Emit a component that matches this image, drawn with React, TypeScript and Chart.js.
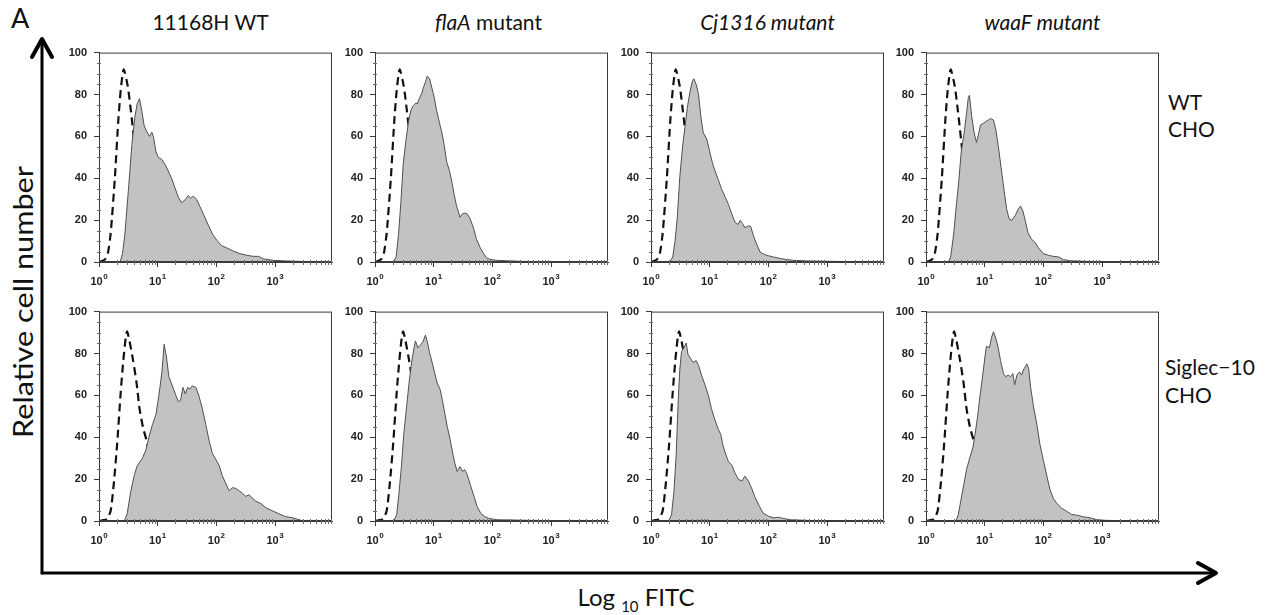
import React, { useEffect, useRef } from "react";
import { Chart, registerables } from "chart.js";

Chart.register(...registerables);

// ---------- labels ----------
const columnTitles = ["11168H WT", "flaA mutant", "Cj1316 mutant", "waaF mutant"];
const rowLabels = [["WT", "CHO"], ["Siglec\u221210", "CHO"]];
const yTickValues = [0, 20, 40, 60, 80, 100];
const xTickExponents = [0, 1, 2, 3];
const xMaxDecade = 3.97;

// ---------- control histograms, x in log10 FITC ----------
const ctrlTopLog = [0, 0.1, 0.15, 0.2, 0.27, 0.33, 0.37, 0.42, 0.49, 0.54, 0.58, 0.65, 0.75, 0.85, 0.95, 1.1];
const ctrlTopCount = [0, 1.2, 4, 14, 40, 68, 82, 92, 84, 73, 63, 45, 25, 10, 3, 0];

const ctrlBotLog = [0, 0.06, 0.14, 0.2, 0.255, 0.31, 0.37, 0.415, 0.455, 0.48, 0.52, 0.58, 0.64, 0.69, 0.75, 0.81, 0.9, 1.0, 1.1, 1.2, 1.35];
const ctrlBotCount = [0, 0.3, 1, 5, 18.7, 37, 61.5, 76.8, 87.5, 90.5, 86, 76.8, 66, 53.8, 44.6, 38.5, 25, 12, 5, 1, 0];

// ---------- sample histograms: WT CHO row ----------
const topWtLog = [0.36, 0.4, 0.44, 0.5, 0.56, 0.61, 0.65, 0.69, 0.73, 0.77, 0.81, 0.86, 0.9, 0.93, 0.97, 1.01, 1.07, 1.125, 1.18, 1.24, 1.3, 1.35, 1.41, 1.47, 1.52, 1.56, 1.61, 1.665, 1.72, 1.79, 1.86, 1.94, 2.01, 2.09, 2.18, 2.29, 2.4, 2.52, 2.63, 2.72, 2.8, 2.97, 3.2, 3.43, 3.71, 3.94];
const topWtCount = [0, 4, 13, 34, 56, 69, 75.5, 78, 72, 65, 62.5, 60, 62, 59.5, 52.7, 50, 49, 46.6, 43.5, 39.7, 35, 31, 28.3, 29.8, 31.7, 30.6, 31.4, 29.8, 26.5, 22.2, 17.7, 13, 10.3, 7.8, 6.7, 5.2, 4, 3.2, 2.7, 2.7, 1.5, 0.8, 0.5, 0.3, 0.15, 0];

const topFlaLog = [0.31, 0.36, 0.4, 0.44, 0.48, 0.53, 0.57, 0.61, 0.65, 0.7, 0.72, 0.76, 0.8, 0.82, 0.86, 0.89, 0.93, 0.97, 1.01, 1.05, 1.1, 1.14, 1.18, 1.22, 1.27, 1.31, 1.35, 1.39, 1.45, 1.49, 1.53, 1.57, 1.62, 1.68, 1.73, 1.79, 1.85, 1.9, 1.96, 2.07, 2.24, 2.53, 2.93, 3.96];
const topFlaCount = [0, 2.4, 13, 28, 46.5, 58.7, 67, 72.3, 74.6, 76, 75.4, 78.4, 80.7, 83, 86, 88.8, 87.5, 83, 78.4, 72.3, 66.3, 61.7, 55.6, 48, 43.5, 38.1, 32, 26.7, 21.4, 23, 23.4, 23, 20.7, 16.1, 10.8, 7, 4, 2.1, 1.2, 0.8, 0.6, 0.3, 0.15, 0];

const topCjLog = [0.32, 0.37, 0.41, 0.45, 0.49, 0.54, 0.58, 0.62, 0.665, 0.71, 0.73, 0.77, 0.81, 0.85, 0.89, 0.95, 0.99, 1.04, 1.09, 1.15, 1.2, 1.26, 1.32, 1.375, 1.43, 1.48, 1.52, 1.56, 1.6, 1.66, 1.7, 1.74, 1.8, 1.86, 1.93, 2.0, 2.085, 2.2, 2.31, 2.43, 2.65, 3.1, 3.96];
const topCjCount = [0, 2.4, 10, 22, 40.4, 55.6, 64.7, 73.9, 81.5, 86.8, 87.5, 84.8, 80, 69.3, 61.7, 58.7, 54, 48, 43.5, 39, 35, 31.3, 27.5, 23, 19.1, 17.9, 19.9, 18.4, 16.4, 17.3, 16.9, 13, 8.5, 4.7, 3.6, 3, 2.4, 1.7, 1.2, 0.8, 0.5, 0.3, 0];

const topWaaLog = [0.38, 0.42, 0.47, 0.51, 0.56, 0.6, 0.65, 0.69, 0.72, 0.74, 0.78, 0.82, 0.86, 0.9, 0.93, 0.98, 1.02, 1.06, 1.1, 1.15, 1.19, 1.23, 1.28, 1.33, 1.375, 1.415, 1.46, 1.52, 1.57, 1.61, 1.65, 1.69, 1.74, 1.8, 1.86, 1.91, 2.0, 2.085, 2.17, 2.26, 2.34, 2.45, 2.74, 3.19, 3.96];
const topWaaCount = [0, 2.4, 13, 25, 39, 52.6, 61.7, 70.8, 78.4, 79.6, 69.3, 61.7, 57.1, 61.7, 65.5, 66.3, 67, 67.8, 68.5, 67.8, 63.2, 55.6, 45, 34.3, 25.2, 20.7, 19.9, 22.2, 25.2, 26.7, 24.5, 19.9, 13.8, 10.8, 9.3, 7, 4, 3.2, 2.7, 2.4, 1.2, 0.6, 0.3, 0.15, 0];

// ---------- sample histograms: Siglec-10 CHO row ----------
const botWtLog = [0.43, 0.48, 0.54, 0.6, 0.65, 0.74, 0.8, 0.85, 0.91, 0.97, 1.02, 1.07, 1.11, 1.15, 1.19, 1.25, 1.31, 1.35, 1.39, 1.43, 1.47, 1.51, 1.55, 1.59, 1.65, 1.7, 1.76, 1.82, 1.875, 1.93, 1.99, 2.05, 2.1, 2.16, 2.22, 2.27, 2.33, 2.39, 2.44, 2.5, 2.56, 2.61, 2.67, 2.76, 2.84, 2.95, 3.07, 3.18, 3.3, 3.41, 3.49];
const botWtCount = [0, 3.4, 14, 21.7, 26.3, 30, 34, 40, 46, 50.8, 60, 70.6, 84.4, 78.3, 69, 64.5, 60, 57, 57.6, 63.8, 60.7, 63.8, 63, 64.5, 63.8, 60, 53.8, 46, 38.5, 32.4, 29.4, 26.3, 21.7, 17.9, 14.4, 15.9, 15.6, 14.4, 13.3, 11.8, 12.5, 11, 9.5, 8.3, 6.4, 4.9, 3.4, 2.1, 1.5, 0.6, 0];

const botFlaLog = [0.32, 0.37, 0.41, 0.45, 0.49, 0.54, 0.58, 0.62, 0.665, 0.69, 0.73, 0.78, 0.82, 0.86, 0.89, 0.93, 0.98, 1.02, 1.06, 1.11, 1.15, 1.19, 1.23, 1.28, 1.32, 1.36, 1.4, 1.45, 1.49, 1.53, 1.57, 1.63, 1.69, 1.74, 1.8, 1.86, 1.94, 2.09, 2.31, 2.65, 3.22, 3.96];
const botFlaCount = [0, 3, 13.8, 26, 41.3, 55, 65.8, 75, 82.7, 86, 82.7, 84.2, 85.8, 88.8, 85.8, 80.4, 75, 70.4, 65.8, 62.8, 57.4, 51.3, 45.2, 39, 32.9, 27.6, 23.7, 26, 23.7, 24.5, 22.2, 16.8, 11.5, 6.9, 3.8, 2.3, 1.2, 0.6, 0.5, 0.3, 0.15, 0];

const botCjLog = [0.3, 0.35, 0.39, 0.43, 0.46, 0.49, 0.52, 0.56, 0.6, 0.63, 0.68, 0.72, 0.77, 0.81, 0.86, 0.92, 0.98, 1.03, 1.09, 1.15, 1.19, 1.22, 1.26, 1.32, 1.375, 1.43, 1.49, 1.55, 1.6, 1.66, 1.72, 1.77, 1.85, 1.91, 2.0, 2.085, 2.17, 2.26, 2.37, 2.65, 3.1, 3.96];
const botCjCount = [0, 3, 13.8, 32, 55, 72, 81, 82.7, 85, 79.6, 77.3, 75.8, 76.6, 74.3, 69.7, 65, 59.7, 53.6, 48.2, 43.6, 41.3, 36.8, 32.9, 28.3, 26.8, 23, 19.9, 19.1, 21.4, 19.1, 15.3, 11.5, 6.9, 3.8, 2.3, 1.5, 1.8, 1.2, 0.6, 0.3, 0.15, 0];

const botWaaLog = [0.51, 0.55, 0.59, 0.64, 0.69, 0.75, 0.8, 0.835, 0.875, 0.92, 0.97, 1.01, 1.03, 1.08, 1.12, 1.15, 1.19, 1.23, 1.27, 1.32, 1.36, 1.4, 1.44, 1.48, 1.51, 1.55, 1.59, 1.63, 1.67, 1.72, 1.75, 1.78, 1.83, 1.89, 1.94, 2.0, 2.06, 2.11, 2.17, 2.23, 2.31, 2.4, 2.48, 2.57, 2.68, 2.8, 2.91, 3.08, 3.48, 3.96];
const botWaaCount = [0, 3, 9.2, 16.8, 24.5, 30.6, 35.2, 41.3, 49, 59.7, 70.4, 79.6, 83.5, 82.7, 88, 90.4, 87.3, 82.7, 76.6, 70.4, 68.9, 69.7, 68.9, 70.4, 65, 69.7, 71.2, 69.7, 72.7, 75, 72.7, 64.3, 55, 45.9, 36.8, 29, 21.4, 15.3, 10.7, 8.4, 6.1, 4.6, 3.1, 2.8, 2, 1.5, 0.6, 0.3, 0.15, 0];

// ---------- layout ----------
const COL_LEFT = [99, 375, 651, 926];
const ROW_TOP = [43, 302];
const PLOT_W = 233;
const PLOT_H = 219;
const AXIS_W = 40;
const AXIS_H = 30;
const PAD_T = 4;
const PAD_R = 4;

const panels = [
  { row: 0, col: 0, log: topWtLog, count: topWtCount },
  { row: 0, col: 1, log: topFlaLog, count: topFlaCount },
  { row: 0, col: 2, log: topCjLog, count: topCjCount },
  { row: 0, col: 3, log: topWaaLog, count: topWaaCount },
  { row: 1, col: 0, log: botWtLog, count: botWtCount },
  { row: 1, col: 1, log: botFlaLog, count: botFlaCount },
  { row: 1, col: 2, log: botCjLog, count: botCjCount },
  { row: 1, col: 3, log: botWaaLog, count: botWaaCount },
];

const AXIS_COLOR = "#3a3a3a";
const TICK_FONT = "'Liberation Sans', Arial, sans-serif";

const framePlugin = {
  id: "frameAndMinor",
  afterDraw(chart: any) {
    const { ctx, chartArea, scales } = chart;
    const { left, right, top, bottom } = chartArea;
    ctx.save();
    ctx.strokeStyle = AXIS_COLOR;
    ctx.lineWidth = 1;
    ctx.strokeRect(left + 0.5, top + 0.5, right - left - 1, bottom - top - 1);
    // minor x ticks (log)
    ctx.strokeStyle = "#6a6a6a";
    const xs = scales.x;
    for (let n = 0; n <= 3; n++) {
      for (let k = 2; k <= 9; k++) {
        const v = k * Math.pow(10, n);
        if (v > Math.pow(10, xMaxDecade)) continue;
        const px = Math.round(xs.getPixelForValue(v)) + 0.5;
        ctx.beginPath();
        ctx.moveTo(px, bottom - 2);
        ctx.lineTo(px, bottom + 3);
        ctx.stroke();
      }
    }
    // minor y ticks
    const ys = scales.y;
    for (let v = 5; v < 100; v += 5) {
      if (v % 20 === 0) continue;
      const py = Math.round(ys.getPixelForValue(v)) + 0.5;
      ctx.beginPath();
      ctx.moveTo(left - 2, py);
      ctx.lineTo(left + 2, py);
      ctx.stroke();
    }
    // x tick labels 10^n with a real superscript
    ctx.fillStyle = "#222";
    ctx.textBaseline = "alphabetic";
    xTickExponents.forEach((e) => {
      const px = xs.getPixelForValue(Math.pow(10, e));
      ctx.font = `bold 11px ${TICK_FONT}`;
      const wBase = ctx.measureText("10").width;
      ctx.font = `bold 8px ${TICK_FONT}`;
      const wExp = ctx.measureText(String(e)).width;
      const x0 = px - (wBase + wExp + 0.5) / 2;
      const base = bottom + 23;
      ctx.font = `bold 11px ${TICK_FONT}`;
      ctx.textAlign = "left";
      ctx.fillText("10", x0, base);
      ctx.font = `bold 8px ${TICK_FONT}`;
      ctx.fillText(String(e), x0 + wBase + 0.5, base - 6);
    });
    ctx.restore();
  },
};

function Panel({ row, col, log, count }: any) {
  const ref = useRef<HTMLCanvasElement>(null);
  const ctrlLog = row === 0 ? ctrlTopLog : ctrlBotLog;
  const ctrlCount = row === 0 ? ctrlTopCount : ctrlBotCount;
  const w = AXIS_W + PLOT_W + PAD_R;
  const h = PAD_T + PLOT_H + AXIS_H;

  useEffect(() => {
    const chart = new Chart(ref.current as HTMLCanvasElement, {
      type: "line",
      data: {
        datasets: [
          {
            label: "sample",
            data: log.map((d: number, i: number) => ({ x: Math.pow(10, d), y: count[i] })),
            fill: "origin",
            backgroundColor: "#c2c2c2",
            borderColor: "#505050",
            borderWidth: 1,
            pointRadius: 0,
            tension: 0,
            order: 0,
          },
          {
            label: "control",
            data: ctrlLog.map((d: number, i: number) => ({ x: Math.pow(10, d), y: ctrlCount[i] })),
            fill: false,
            borderColor: "#111111",
            borderWidth: 2.2,
            borderDash: [8, 5],
            pointRadius: 0,
            tension: 0.2,
            order: 1,
          },
        ],
      },
      options: {
        animation: false,
        responsive: false,
        maintainAspectRatio: false,
        layout: { padding: { top: PAD_T, right: PAD_R, left: 0, bottom: 0 } },
        plugins: { legend: { display: false }, tooltip: { enabled: false } },
        scales: {
          x: {
            type: "logarithmic",
            min: 1,
            max: Math.pow(10, xMaxDecade),
            afterBuildTicks: (s: any) => {
              s.ticks = xTickExponents.map((e) => ({ value: Math.pow(10, e) }));
            },
            afterFit: (s: any) => {
              s.height = AXIS_H;
            },
            grid: { drawOnChartArea: false, drawTicks: true, tickLength: 5, color: AXIS_COLOR },
            border: { display: true, color: AXIS_COLOR },
            ticks: { display: false, autoSkip: false, maxRotation: 0 },
          },
          y: {
            min: 0,
            max: 100,
            afterBuildTicks: (s: any) => {
              s.ticks = yTickValues.map((v) => ({ value: v }));
            },
            afterFit: (s: any) => {
              s.width = AXIS_W;
            },
            grid: { drawOnChartArea: false, drawTicks: true, tickLength: 5, color: AXIS_COLOR },
            border: { display: true, color: AXIS_COLOR },
            ticks: {
              padding: 7,
              color: "#222",
              font: { family: TICK_FONT, size: 11, weight: "bold" },
            },
          },
        },
      } as any,
      plugins: [framePlugin],
    });
    return () => chart.destroy();
  }, []);

  return (
    <canvas
      ref={ref}
      width={w}
      height={h}
      style={{
        position: "absolute",
        left: COL_LEFT[col] - AXIS_W,
        top: ROW_TOP[row] - PAD_T,
        width: w,
        height: h,
      }}
    />
  );
}

const LABEL_FONT = "Lato, 'Open Sans', sans-serif";

export default function App() {
  const titleX = COL_LEFT.map((l) => l + PLOT_W / 2);
  return (
    <div style={{ position: "absolute", left: 0, top: 0, width: 1267, height: 615, background: "#fff", overflow: "hidden" }}>
      <svg width={1267} height={615} style={{ position: "absolute", left: 0, top: 0 }}>
        <g fontFamily={LABEL_FONT} fill="#111">
          <text x={11} y={28} fontSize={27}>A</text>
          <text x={titleX[0] - 5} y={30} fontSize={21} textAnchor="middle">{columnTitles[0]}</text>
          <text x={titleX[1] - 3} y={30} fontSize={21} textAnchor="middle">
            <tspan fontStyle="italic">flaA</tspan> mutant
          </text>
          <text x={titleX[2]} y={30} fontSize={21} textAnchor="middle" fontStyle="italic">{columnTitles[2]}</text>
          <text x={titleX[3]} y={30} fontSize={21} textAnchor="middle" fontStyle="italic">{columnTitles[3]}</text>
          <text x={1168} y={110} fontSize={21}>{rowLabels[0][0]}</text>
          <text x={1168} y={137} fontSize={21}>{rowLabels[0][1]}</text>
          <text x={1165} y={375} fontSize={21}>{rowLabels[1][0]}</text>
          <text x={1165} y={403} fontSize={21}>{rowLabels[1][1]}</text>
          <text
            x={33}
            y={302}
            fontSize={26}
            textAnchor="middle"
            textLength={272}
            lengthAdjust="spacingAndGlyphs"
            transform="rotate(-90 33 302)"
          >
            Relative cell number
          </text>
          <text x={636} y={606} fontSize={24} textAnchor="middle">
            Log <tspan fontSize={15} dy={6}>10</tspan><tspan dy={-6}> FITC</tspan>
          </text>
        </g>
        <g stroke="#000" fill="none" strokeLinecap="round" strokeLinejoin="round">
          <line x1={42} y1={40} x2={42} y2={573} strokeWidth={3} />
          <polyline points="32,57 42,39 52,57" strokeWidth={4} />
          <line x1={42} y1={573} x2={1215} y2={573} strokeWidth={3} />
          <polyline points="1198,563 1216,573 1198,583" strokeWidth={4} />
        </g>
      </svg>
      {panels.map((p, i) => (
        <Panel key={i} {...p} />
      ))}
    </div>
  );
}
